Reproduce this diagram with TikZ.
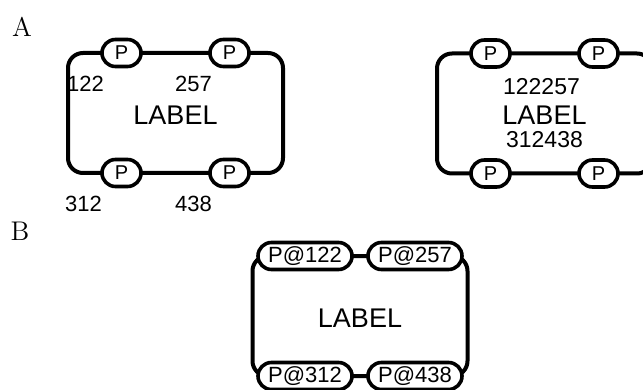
\documentclass[tikz,border=0pt]{standalone}
\usepackage{fontspec}
\newfontfamily\sansf{Liberation Sans}
\usepackage{tikz}
\usetikzlibrary{positioning, shapes.misc}

\begin{document}
\begin{tikzpicture}[
    x=0.5pt, y=-0.5pt,
    every node/.style={font=\sansf},
    panel/.style={draw, line width=2pt, rounded corners=7.5pt, minimum width=107.5pt, minimum height=60pt, inner sep=0pt, outer sep=0pt},
    port/.style={draw, fill=white, rounded rectangle, line width=1.8pt, minimum height=13.5pt, minimum width=#1, inner xsep=0pt, inner ysep=1pt, font=\sansf\fontsize{10}{10}\selectfont},
    port/.default=19.5pt,
    longport/.style={port=47pt, font=\sansf\fontsize{11}{11}\selectfont},
    num/.style={inner sep=0pt, font=\sansf\fontsize{#1}{#1}\selectfont},
    num/.default=11,
    lbl/.style={inner sep=0pt, font=\sansf\fontsize{13.5}{14}\selectfont},
    tag/.style={inner sep=0pt, font=\rmfamily\fontsize{13.5}{13.5}\selectfont},
  ]
  \useasboundingbox (0,0) rectangle (643,390);
  \clip (0,0) rectangle (643,390);

  % ---- Panel A ----
  \node[tag] (tagA) at (22,27) {A};

  \node[panel] (boxL) at (175.5,113) {};
  \node[lbl] (lblL) at ([yshift=-1pt]boxL.center) {LABEL};
  \node[port] (pL1) at ([xshift=-27pt]boxL.north) {P};
  \node[port] (pL2) at ([xshift=27pt]boxL.north) {P};
  \node[port] (pL3) at ([xshift=-27pt]boxL.south) {P};
  \node[port] (pL4) at ([xshift=27pt]boxL.south) {P};
  \node[num] (nL1) at ([xshift=-18pt, yshift=-15.5pt]pL1.center) {122};
  \node[num] (nL2) at ([xshift=-18pt, yshift=-15.5pt]pL2.center) {257};
  \node[num] (nL3) at ([xshift=-19pt, yshift=-15.5pt]pL3.center) {312};
  \node[num] (nL4) at ([xshift=-18pt, yshift=-15.5pt]pL4.center) {438};

  \node[panel] (boxR) at (544.5,113.5) {};
  \node[lbl] (lblR) at ([yshift=-1pt]boxR.center) {LABEL};
  \node[num=11.5] (nR1) at ([xshift=-1.5pt, yshift=13.25pt]boxR.center) {122257};
  \node[num=11.5] (nR2) at ([yshift=-13.25pt]boxR.center) {312438};
  \node[port] (pR1) at ([xshift=-27pt]boxR.north) {P};
  \node[port] (pR2) at ([xshift=27pt]boxR.north) {P};
  \node[port] (pR3) at ([xshift=-27pt]boxR.south) {P};
  \node[port] (pR4) at ([xshift=27pt]boxR.south) {P};

  % ---- Panel B ----
  \node[tag] (tagB) at (20,231) {B};

  \node[panel] (boxB) at (360,316) {};
  \node[lbl] (lblB) at ([yshift=-1pt]boxB.center) {LABEL};
  \node[longport] (pB1) at ([xshift=-27.5pt]boxB.north) {P@122};
  \node[longport] (pB2) at ([xshift=27.5pt]boxB.north) {P@257};
  \node[longport] (pB3) at ([xshift=-27.5pt]boxB.south) {P@312};
  \node[longport] (pB4) at ([xshift=27.5pt]boxB.south) {P@438};

\end{tikzpicture}
\end{document}
